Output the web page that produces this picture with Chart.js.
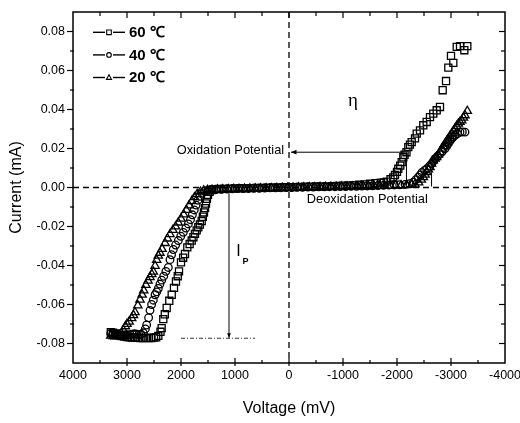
<!DOCTYPE html>
<html>
<head>
<meta charset="utf-8">
<script src="https://cdn.jsdelivr.net/npm/chart.js@4.4.0/dist/chart.umd.min.js"></script>
<style>
  html, body { margin: 0; padding: 0; background: #fff; }
  #wrap { width: 520px; height: 423px; }
</style>
</head>
<body>
<div id="wrap"><canvas id="iv" width="520" height="423"></canvas></div>
<script>
// I-V sweeps at three temperatures, [voltage mV, current mA]
const xTicks = [4000, 3000, 2000, 1000, 0, -1000, -2000, -3000, -4000];
const yTicks = [-0.08, -0.06, -0.04, -0.02, 0, 0.02, 0.04, 0.06, 0.08];
const seriesNames = ['60 ℃', '40 ℃', '20 ℃'];

const iv60 = [
  [3300,-0.0742],[3260,-0.0745],[3220,-0.0748],[3180,-0.0752],[3140,-0.0758],[3100,-0.0762],[3050,-0.0765],
  [3000,-0.0767],[2950,-0.0768],[2900,-0.0770],[2850,-0.0770],[2800,-0.0771],[2750,-0.0772],[2700,-0.0772],
  [2650,-0.0771],[2600,-0.0772],[2550,-0.0772],[2500,-0.0770],[2460,-0.0768],[2420,-0.0761],
  [2380,-0.0740],[2358,-0.0721],[2328,-0.0675],[2300,-0.0650],[2265,-0.0618],[2217,-0.0581],[2172,-0.0550],
  [2130,-0.0515],[2093,-0.0482],[2060,-0.0455],[2037,-0.0430],[2000,-0.0384],[1960,-0.0360],[1926,-0.0341],
  [1883,-0.0307],[1840,-0.0290],[1802,-0.0272],[1770,-0.0255],[1741,-0.0238],[1710,-0.0220],[1680,-0.0204],
  [1650,-0.0190],[1617,-0.0172],[1595,-0.0150],[1575,-0.0128],[1555,-0.0106],[1537,-0.0082],[1520,-0.0058],
  [1500,-0.0038],[1470,-0.0022],[1430,-0.0013],
  [1400,-0.0010],[1300,-0.0008],[1200,-0.0007],[1100,-0.0006],[1000,-0.0005],[900,-0.0004],[800,-0.0004],
  [700,-0.0003],[600,-0.0002],[500,-0.0002],[400,-0.0001],[300,0.0000],[200,0.0000],[100,0.0001],[0,0.0002],
  [-100,0.0002],[-200,0.0003],[-300,0.0004],[-400,0.0004],[-500,0.0005],[-600,0.0006],[-700,0.0006],
  [-800,0.0007],[-900,0.0008],[-1000,0.0009],[-1100,0.0010],[-1200,0.0012],[-1300,0.0014],[-1400,0.0016],
  [-1500,0.0019],[-1600,0.0022],[-1700,0.0025],[-1760,0.0026],
  [-1809,0.0030],[-1880,0.0042],[-1930,0.0052],[-1963,0.0064],[-2000,0.0080],[-2024,0.0096],[-2060,0.0112],
  [-2087,0.0130],[-2117,0.0155],[-2140,0.0168],[-2175,0.0181],[-2209,0.0207],[-2240,0.0220],[-2272,0.0233],
  [-2333,0.0252],[-2365,0.0276],[-2426,0.0293],[-2487,0.0319],[-2550,0.0336],[-2611,0.0361],[-2672,0.0379],
  [-2735,0.0396],[-2796,0.0413],[-2846,0.0499],[-2908,0.0546],[-2950,0.0615],[-3000,0.0675],[-3043,0.0639],
  [-3106,0.0721],[-3167,0.0725],[-3247,0.0704],[-3302,0.0725]
];

const iv40 = [
  [3300,-0.0748],[3260,-0.0750],[3220,-0.0752],[3180,-0.0755],[3140,-0.0757],[3100,-0.0758],[3060,-0.0757],
  [3020,-0.0755],[2980,-0.0756],[2940,-0.0755],[2900,-0.0752],[2860,-0.0750],[2820,-0.0752],[2780,-0.0755],
  [2740,-0.0752],
  [2698,-0.0745],[2660,-0.0725],[2636,-0.0705],[2600,-0.0668],[2574,-0.0630],[2545,-0.0600],[2513,-0.0578],
  [2480,-0.0550],[2450,-0.0535],[2420,-0.0518],[2390,-0.0495],[2358,-0.0475],[2320,-0.0455],[2280,-0.0430],
  [2235,-0.0410],[2204,-0.0370],[2175,-0.0345],[2143,-0.0318],[2100,-0.0295],[2050,-0.0272],[2005,-0.0250],
  [1957,-0.0230],[1910,-0.0208],[1864,-0.0187],[1825,-0.0165],[1790,-0.0140],[1755,-0.0115],[1720,-0.0090],
  [1685,-0.0065],[1650,-0.0045],[1610,-0.0030],[1560,-0.0019],[1500,-0.0014],
  [1450,-0.0012],[1350,-0.0010],[1250,-0.0009],[1150,-0.0008],[1050,-0.0007],[950,-0.0006],[850,-0.0006],
  [750,-0.0005],[650,-0.0004],[550,-0.0004],[450,-0.0003],[350,-0.0002],[250,-0.0002],[150,-0.0001],
  [50,0.0000],[-50,0.0000],[-150,0.0001],[-250,0.0001],[-350,0.0002],[-450,0.0002],[-550,0.0003],
  [-650,0.0003],[-750,0.0004],[-850,0.0004],[-950,0.0005],[-1050,0.0005],[-1150,0.0006],[-1250,0.0006],
  [-1350,0.0007],[-1450,0.0008],[-1550,0.0009],[-1650,0.0010],[-1750,0.0011],[-1850,0.0012],[-1950,0.0013],
  [-2050,0.0014],[-2150,0.0016],[-2230,0.0020],
  [-2302,0.0027],[-2350,0.0040],[-2395,0.0053],[-2430,0.0065],[-2463,0.0077],[-2510,0.0088],[-2550,0.0096],
  [-2600,0.0110],[-2643,0.0122],[-2675,0.0135],[-2704,0.0148],[-2750,0.0160],[-2796,0.0173],[-2840,0.0186],
  [-2889,0.0199],[-2920,0.0212],[-2950,0.0225],[-2980,0.0238],[-3013,0.0250],[-3040,0.0260],[-3074,0.0267],
  [-3120,0.0276],[-3167,0.0284],[-3210,0.0285],[-3259,0.0284]
];

const iv20 = [
  [3300,-0.0760],[3260,-0.0763],[3220,-0.0764],[3180,-0.0762],[3140,-0.0756],[3100,-0.0748],
  [3068,-0.0730],[3030,-0.0712],[3000,-0.0700],[2960,-0.0688],[2913,-0.0670],[2880,-0.0655],[2852,-0.0640],
  [2800,-0.0605],[2759,-0.0575],[2720,-0.0550],[2690,-0.0528],[2650,-0.0500],[2610,-0.0478],[2574,-0.0460],
  [2540,-0.0445],[2513,-0.0432],[2480,-0.0402],[2450,-0.0372],[2420,-0.0350],[2390,-0.0335],[2350,-0.0315],
  [2296,-0.0285],[2250,-0.0262],[2204,-0.0240],[2150,-0.0218],[2100,-0.0200],[2050,-0.0180],[2000,-0.0160],
  [1950,-0.0138],[1900,-0.0115],[1850,-0.0092],[1800,-0.0070],[1750,-0.0050],[1700,-0.0034],[1640,-0.0022],
  [1580,-0.0016],[1510,-0.0013],
  [1425,-0.0012],[1325,-0.0011],[1225,-0.0010],[1125,-0.0009],[1025,-0.0008],[925,-0.0008],[825,-0.0007],
  [725,-0.0006],[625,-0.0006],[525,-0.0005],[425,-0.0004],[325,-0.0004],[225,-0.0003],[125,-0.0002],
  [25,-0.0002],[-75,-0.0001],[-175,0.0000],[-275,0.0000],[-375,0.0001],[-475,0.0001],[-575,0.0002],
  [-675,0.0002],[-775,0.0003],[-875,0.0003],[-975,0.0004],[-1075,0.0004],[-1175,0.0005],[-1275,0.0005],
  [-1375,0.0006],[-1475,0.0006],[-1575,0.0007],[-1675,0.0008],[-1775,0.0008],[-1875,0.0009],[-1975,0.0010],
  [-2075,0.0011],[-2175,0.0012],[-2275,0.0014],
  [-2333,0.0016],[-2400,0.0026],[-2450,0.0040],[-2487,0.0053],[-2520,0.0066],[-2550,0.0079],[-2580,0.0092],
  [-2611,0.0104],[-2640,0.0122],[-2672,0.0139],[-2705,0.0148],[-2735,0.0156],[-2765,0.0168],[-2796,0.0181],
  [-2828,0.0199],[-2860,0.0212],[-2889,0.0225],[-2920,0.0238],[-2950,0.0250],[-2980,0.0263],[-3013,0.0276],
  [-3045,0.0290],[-3074,0.0302],[-3105,0.0315],[-3135,0.0327],[-3165,0.0336],[-3198,0.0344],[-3230,0.0358],
  [-3259,0.0370],[-3302,0.0392]
];

const family = '"Liberation Sans", Arial, sans-serif';

const mk = (pts, style, r, label) => ({
  label,
  data: pts.map(([x, y]) => ({ x, y })),
  pointStyle: style,
  pointRadius: r,
  pointBorderWidth: 1.3,
  pointBorderColor: '#000',
  pointBackgroundColor: 'rgba(0,0,0,0)',
  showLine: false
});

function seg(ctx, x1, y1, x2, y2) {
  ctx.beginPath(); ctx.moveTo(x1, y1); ctx.lineTo(x2, y2); ctx.stroke();
}

function arrow(ctx, x1, y1, x2, y2, size) {
  seg(ctx, x1, y1, x2, y2);
  const ang = Math.atan2(y2 - y1, x2 - x1);
  ctx.beginPath();
  ctx.moveTo(x2, y2);
  ctx.lineTo(x2 - size * Math.cos(ang - 0.4), y2 - size * Math.sin(ang - 0.4));
  ctx.lineTo(x2 - size * Math.cos(ang + 0.4), y2 - size * Math.sin(ang + 0.4));
  ctx.closePath();
  ctx.fill();
}

function marker(ctx, style, cx, cy, r) {
  ctx.beginPath();
  if (style === 'rect') ctx.rect(cx - r, cy - r, 2 * r, 2 * r);
  else if (style === 'circle') ctx.arc(cx, cy, r, 0, Math.PI * 2);
  else { ctx.moveTo(cx, cy - r * 1.2); ctx.lineTo(cx + r * 1.1, cy + r * 0.8); ctx.lineTo(cx - r * 1.1, cy + r * 0.8); ctx.closePath(); }
  ctx.stroke();
}

// dashed zero lines behind the points
const zeroLines = {
  id: 'zeroLines',
  beforeDatasetsDraw(chart) {
    const { ctx, chartArea: a, scales: { x, y } } = chart;
    ctx.save();
    ctx.strokeStyle = '#000';
    ctx.lineWidth = 1.3;
    ctx.setLineDash([6, 4]);
    seg(ctx, a.left, y.getPixelForValue(0), a.right, y.getPixelForValue(0));
    seg(ctx, x.getPixelForValue(0), a.top, x.getPixelForValue(0), a.bottom);
    ctx.restore();
  }
};

// box frame with major and minor ticks
const frame = {
  id: 'frame',
  afterDatasetsDraw(chart) {
    const { ctx, chartArea: a, scales: { x, y } } = chart;
    ctx.save();
    ctx.strokeStyle = '#000';
    ctx.lineWidth = 1.5;
    ctx.strokeRect(a.left, a.top, a.right - a.left, a.bottom - a.top);
    ctx.lineWidth = 1.2;
    for (let v = -3500; v <= 3500; v += 500) {
      const px = x.getPixelForValue(v);
      const major = v % 1000 === 0;
      seg(ctx, px, a.top, px, a.top + (major ? 6 : 4));
      seg(ctx, px, a.bottom + (major ? 3 : 0), px, a.bottom - (major ? 5 : 3));
    }
    for (let i = -8; i <= 8; i++) {
      const py = y.getPixelForValue(i / 100);
      const major = i % 2 === 0;
      seg(ctx, a.left - (major ? 6 : 3), py, a.left + (major ? 0 : 1), py);
      seg(ctx, a.right, py, a.right - (major ? 6 : 4), py);
    }
    ctx.restore();
  }
};

// potentials, overpotential and peak current marks
const notes = {
  id: 'notes',
  afterDatasetsDraw(chart) {
    const { ctx, scales: { x, y } } = chart;
    const X = v => x.getPixelForValue(v), Y = v => y.getPixelForValue(v);
    ctx.save();
    ctx.strokeStyle = '#000';
    ctx.fillStyle = '#000';
    ctx.lineWidth = 1;

    arrow(ctx, X(-2175), Y(0.0181), X(0) + 2, Y(0.0181), 6);
    seg(ctx, X(-2175), Y(0.0181), X(-2175), Y(0.0012));
    seg(ctx, X(-2640), Y(0.0078), X(-2640), Y(0.0005));

    arrow(ctx, X(1111), Y(-0.003), X(1111), Y(-0.0771), 5);
    ctx.setLineDash([4, 2, 1, 2]);
    ctx.strokeStyle = '#333';
    seg(ctx, X(2000), Y(-0.0773), X(630), Y(-0.0773));
    ctx.setLineDash([]);

    ctx.font = '12.8px ' + family;
    ctx.textBaseline = 'middle';
    ctx.textAlign = 'right';
    ctx.fillText('Oxidation Potential', X(90), Y(0.0181) - 1.5);
    ctx.textAlign = 'left';
    ctx.fillText('Deoxidation Potential', X(-330), Y(-0.0062));

    ctx.textAlign = 'center';
    ctx.font = '19px "Liberation Serif", "DejaVu Serif", serif';
    ctx.fillText('η', X(-1185), Y(0.0442));
    ctx.font = '16px ' + family;
    ctx.fillText('I', X(935), Y(-0.0329));
    ctx.font = 'bold 9px ' + family;
    ctx.fillText('P', X(806), Y(-0.0378));
    ctx.restore();
  }
};

// series key in the upper-left corner
const keyBox = {
  id: 'keyBox',
  afterDraw(chart) {
    const { ctx, chartArea: a } = chart;
    const styles = ['rect', 'circle', 'triangle'];
    ctx.save();
    ctx.strokeStyle = '#000';
    ctx.fillStyle = '#000';
    ctx.font = 'bold 15px ' + family;
    ctx.textBaseline = 'middle';
    ctx.textAlign = 'left';
    seriesNames.forEach((name, i) => {
      const cy = a.top + 20.3 + i * 22.6;
      const cx = a.left + 36;
      ctx.lineWidth = 1.4;
      seg(ctx, cx - 16, cy, cx - 4, cy);
      seg(ctx, cx + 4, cy, cx + 16, cy);
      ctx.lineWidth = 1.1;
      marker(ctx, styles[i], cx, cy, 2.3);
      ctx.fillText(name, cx + 20, cy + 0.5);
    });
    ctx.restore();
  }
};

new Chart(document.getElementById('iv'), {
  type: 'scatter',
  data: {
    datasets: [
      mk(iv60, 'rect', 5, seriesNames[0]),
      mk(iv40, 'circle', 3.8, seriesNames[1]),
      mk(iv20, 'triangle', 4.8, seriesNames[2])
    ]
  },
  options: {
    responsive: false,
    animation: false,
    layout: { padding: { top: 12, right: 15, left: 0, bottom: 0 } },
    plugins: { legend: { display: false }, tooltip: { enabled: false } },
    scales: {
      x: {
        type: 'linear', min: -4000, max: 4000, reverse: true,
        grid: { display: false, drawTicks: false },
        border: { display: false },
        afterBuildTicks: s => { s.ticks = xTicks.map(v => ({ value: v })); },
        afterFit: s => { s.height = 60; s.paddingLeft = 0; s.paddingRight = 0; },
        ticks: { color: '#000', font: { family, size: 12.5 }, padding: 5, maxRotation: 0, autoSkip: false, callback: v => String(v) },
        title: { display: true, text: 'Voltage (mV)', color: '#000', font: { family, size: 16 }, padding: { top: 4, bottom: 5 } }
      },
      y: {
        type: 'linear', min: -0.09, max: 0.09,
        grid: { display: false, drawTicks: false },
        border: { display: false },
        afterBuildTicks: s => { s.ticks = yTicks.map(v => ({ value: v })); },
        afterFit: s => { s.width = 73; s.paddingTop = 0; s.paddingBottom = 0; },
        ticks: { color: '#000', font: { family, size: 12.5 }, padding: 8, autoSkip: false, callback: v => v.toFixed(2) },
        title: { display: true, text: 'Current (mA)', color: '#000', font: { family, size: 16 }, padding: { top: 7, bottom: 0 } }
      }
    }
  },
  plugins: [zeroLines, frame, notes, keyBox]
});
</script>
</body>
</html>
